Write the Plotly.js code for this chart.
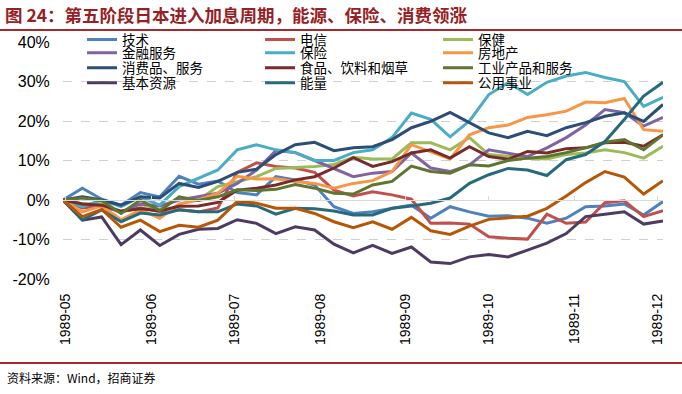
<!DOCTYPE html>
<html>
<head>
<meta charset="utf-8">
<script src="https://cdn.plot.ly/plotly-3.0.1.min.js"></script>
<style>
html,body{margin:0;padding:0;background:#fff;}
#chart{width:682px;height:394px;}
</style>
</head>
<body>
<div id="chart"></div>
<script>
// ---- data (weekly, cumulative change %) ----
const dates = ['1989-04-30','1989-05-07','1989-05-14','1989-05-21','1989-05-28','1989-06-04','1989-06-11','1989-06-18','1989-06-25','1989-07-02','1989-07-09','1989-07-16','1989-07-23','1989-07-30','1989-08-06','1989-08-13','1989-08-20','1989-08-27','1989-09-03','1989-09-10','1989-09-17','1989-09-24','1989-10-01','1989-10-08','1989-10-15','1989-10-22','1989-10-29','1989-11-05','1989-11-12','1989-11-19','1989-11-26','1989-12-03'];

const tickVals = ['1989-05-01','1989-06-01','1989-07-01','1989-08-01','1989-09-01','1989-10-01','1989-11-01','1989-12-01'];
const tickLabels = ['1989-05','1989-06','1989-07','1989-08','1989-09','1989-10','1989-11','1989-12'];

const seriesNames = ['技术','电信','保健','金融服务','保险','房地产','消费品、服务','食品、饮料和烟草','工业产品和服务','基本资源','能量','公用事业'];

const tech      = [0,3,0.2,-1.3,1.9,0.8,6,4,4.8,1.9,1.3,5.9,5.1,3.8,-1.7,-3.4,-3,-2.1,-1.3,-4.6,-1.7,-3,-4.1,-4,-4.6,-5.9,-4.6,-1.7,-1.5,-1,-3.8,-0.4];
const telecom   = [0,-2,-1.5,-3,-2,-3,-2.5,-3,-2,7,9.4,8.5,8.1,7,2.5,1,2.1,1.3,0.2,-5.9,-5.8,-6.1,-9.3,-9.7,-9.9,-3.6,-5.9,-5.6,-0.7,-0.2,-4.2,-2.7];
const health    = [0,-1,-1,-3,-1,-2.5,0.5,0,3.4,4.7,5.9,8,8.3,8.5,9,10.8,10.4,10.4,14.5,14.5,12.7,15.8,11.5,11,10.6,10.4,11.5,11.9,12.7,12,10.6,13.6];
const finance   = [0,-1,-1.5,-3,-1,-1.5,0,0.8,1.7,4.2,7.6,12.5,12,10,8,5.9,6.8,7.2,11.9,8.1,7.2,8.9,12.7,11.8,11,13.2,15.8,19,22.9,22.1,18.7,20.9];
const insurance = [0,-1.7,0,-1.7,0.8,-1.3,3.4,5.6,7.6,12.7,14,12.7,12,10,10,12,12.7,15.8,22,20.4,16,20,26.7,29.7,26.7,29.8,31.4,32.3,31,30,23.7,26];
const realty    = [0,-3,-1.5,-5,-2.5,-4.6,-1,0,1.7,6,5.3,5.4,4.7,4.2,3,4.2,4.9,7.2,14,12.3,10.4,16.5,18.3,19,20.9,21.6,22.5,24.8,24.6,25.7,17.8,17.4];
const consumer  = [0,0.8,0,-1.3,0.8,0.5,4.2,3.2,4.7,7,7.8,11.5,14,14.6,12.5,13.2,13.5,15.3,18.3,19.9,22.2,19.6,17,15.8,17.4,16.3,18.3,19.6,21.2,22.1,19.9,24.2];
const food      = [0,-1,-1.3,-2.8,-2.2,-2.7,-1.6,-1.5,-0.6,2.5,3,3.8,5.1,5.9,8.1,10.7,8.5,9.7,11.9,12.7,10.6,13.5,11,10.3,12.3,11.9,13,13.2,14.5,14.6,13.6,16.5];
const industry  = [0,0.5,-0.2,-3.4,0,-2.7,0.8,-0.1,0.8,2.6,2.4,2.7,3.9,3,1.7,1.5,3.8,4.7,8.6,7.2,6.8,8.9,8.6,10,10.6,11,12,13.2,14.6,15.3,12.7,16.5];
const resources = [0,-5.1,-4.3,-11.3,-7.6,-11.5,-8.7,-7.4,-7.2,-5,-5.9,-8.5,-6.8,-7.6,-11.2,-13.4,-11.5,-13.5,-11.9,-15.7,-16.1,-14.4,-13.8,-14.4,-12.7,-10.9,-8.5,-4.2,-3.6,-3,-6.1,-5.3];
const energy    = [0,-5,-2.5,-5.5,-3.3,-3.8,-2.5,-3,-3,-1,-1.5,-3.6,-2.1,-2.2,-2.8,-3.8,-3.8,-2.1,-1.5,-0.8,0.5,4.2,6.4,8,7.6,6.2,10.2,11.5,14.8,20.4,26.3,29.8];
const utilities = [0,-4.2,-2.4,-6.9,-5.1,-8,-6.4,-6.9,-5.1,-0.4,-0.8,-2.1,-2.1,-3.4,-5.5,-7,-5.5,-7.4,-4.4,-7.8,-8.7,-6.6,-4.9,-4.5,-4.1,-2.1,1,4.4,7.2,5.8,1.5,4.9];

const yTicks = [-20,-10,0,10,20,30,40];
const yTickLabels = ['-20%','-10%','0%','10%','20%','30%','40%'];

// ---- styling ----
const values = [tech,telecom,health,finance,insurance,realty,consumer,food,industry,resources,energy,utilities];
const colors = ['#4F81BD','#C0504D','#9BBB59','#8064A2','#4BACC6','#F79646','#2C4D75','#772C2A','#5F7530','#4D3B62','#276A7C','#B65708'];
const legendIds = ['legend','legend','legend','legend2','legend2','legend2','legend3','legend3','legend3','legend4','legend4','legend4'];

const traces = seriesNames.map((n,i)=>({
  type:'scatter', mode:'lines', name:n, x:dates, y:values[i],
  line:{color:colors[i], width:3},
  legend:legendIds[i], hoverinfo:'skip'
}));

const cjk = '"Noto Sans CJK SC", "Liberation Sans", sans-serif';
const legFont = {family:cjk, size:13.5, color:'#000'};
function leg(y){
  return {orientation:'h', x:0.0317, xanchor:'left', y:y, yanchor:'middle',
    bgcolor:'rgba(0,0,0,0)', font:legFont, entrywidth:133, entrywidthmode:'pixels',
    itemwidth:30, tracegroupgap:0, itemclick:false, itemdoubleclick:false};
}

const layout = {
  width:682, height:394,
  margin:{l:63, r:19, t:42, b:115},
  paper_bgcolor:'#fff', plot_bgcolor:'#fff',
  showlegend:true,
  title:{text:'图 24：第五阶段日本进入加息周期，能源、保险、消费领涨',
    font:{family:cjk, size:17.5, color:'#962024', weight:700},
    xref:'container', yref:'container', x:0.0073, xanchor:'left', y:0.959, yanchor:'middle'},
  xaxis:{type:'date', range:[dates[0], dates[dates.length-1]],
    tickvals:tickVals, ticktext:tickLabels, tickangle:-90,
    tickfont:{family:'"Liberation Sans", Arial, sans-serif', size:14, color:'#000'},
    ticks:'outside', ticklen:8, tickcolor:'rgba(0,0,0,0)',
    showgrid:false, zeroline:false, showline:false, fixedrange:true},
  xaxis2:{type:'date', overlaying:'x', matches:'x', anchor:'free', position:1/3,
    tickvals:tickVals, showticklabels:false, ticks:'inside', ticklen:4, tickcolor:'#D9D9D9',
    showline:true, linecolor:'#D9D9D9', linewidth:1, showgrid:false, zeroline:false},
  yaxis:{range:[-20,40], tickvals:yTicks, ticktext:yTickLabels,
    tickfont:{family:'"Liberation Sans", Arial, sans-serif', size:16, color:'#000'},
    ticks:'outside', ticklen:9, tickcolor:'rgba(0,0,0,0)',
    showgrid:true, gridcolor:'#D0D0D0', griddash:'dash', gridwidth:1,
    zeroline:true, zerolinecolor:'#D9D9D9', zerolinewidth:1, showline:false, fixedrange:true},
  legend:leg(1.0097), legend2:leg(0.9536), legend3:leg(0.890), legend4:leg(0.827),
  shapes:[
    {type:'line', xref:'paper', yref:'paper', x0:-0.105, x1:1.0317, y0:1.0506, y1:1.0506, line:{color:'#A6282C', width:2}},
    {type:'line', xref:'paper', yref:'paper', x0:-0.105, x1:1.0317, y0:-0.3544, y1:-0.3544, line:{color:'#A6282C', width:2}}
  ],
  annotations:[
    {text:'资料来源：Wind，招商证券', xref:'paper', yref:'paper', x:-0.0967, y:-0.4177,
     xanchor:'left', yanchor:'middle', showarrow:false, font:{family:cjk, size:12, color:'#000'}}
  ]
};

// invisible helper trace so the zero-line axis (xaxis2) is rendered
traces.push({type:'scatter', mode:'lines', x:[dates[0]], y:[0], xaxis:'x2', yaxis:'y',
  showlegend:false, hoverinfo:'skip', line:{width:0}, opacity:0});

Plotly.newPlot('chart', traces, layout, {displayModeBar:false, staticPlot:true});
</script>
</body>
</html>
